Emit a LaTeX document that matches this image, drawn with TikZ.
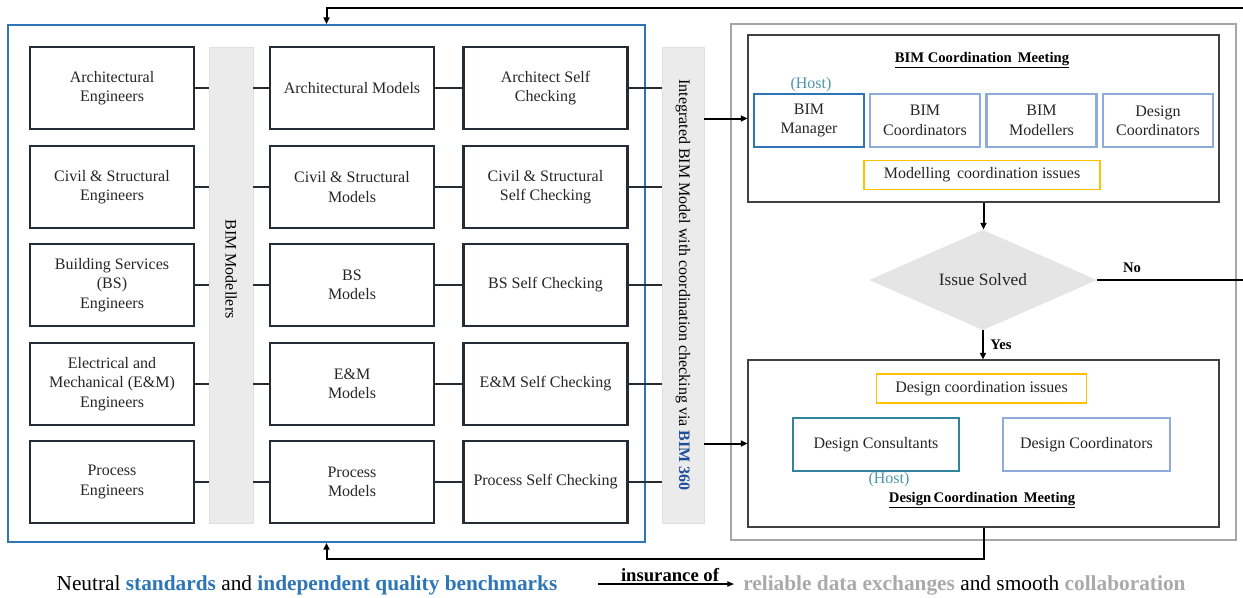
\documentclass[tikz,border=0pt]{standalone}
\usepackage{fontspec}
\setmainfont{Liberation Serif}
\usetikzlibrary{arrows.meta,shapes.geometric}

\definecolor{teamblue}{RGB}{46,117,182}
\definecolor{boxdark}{RGB}{38,44,54}
\definecolor{barfill}{RGB}{235,235,235}
\definecolor{outergray}{RGB}{166,166,166}
\definecolor{lightblue}{RGB}{143,170,220}
\definecolor{issuegold}{RGB}{255,192,0}
\definecolor{consultteal}{RGB}{49,132,155}
\definecolor{hostteal}{RGB}{75,150,170}
\definecolor{softgray}{RGB}{170,170,170}
\definecolor{navyblue}{RGB}{31,78,154}

\begin{document}
\begin{tikzpicture}[x=0.75pt,y=0.75pt,yscale=-1,xscale=1,
  font=\fontsize{12}{14.5}\selectfont,
  engbox/.style={draw=boxdark,line width=1.6pt,minimum width=123pt,minimum height=61.5pt,align=center,text=black!85},
  barbox/.style={fill=barfill,draw=black!12,minimum height=357pt},
  linkline/.style={draw=boxdark,line width=1.6pt},
  flowarrow/.style={line width=1.5pt,-{Triangle[length=5pt,width=4.5pt]}},
  memberbox/.style={line width=1.6pt,minimum width=82.5pt,minimum height=39.75pt,align=center,text=black!85},
  issuebox/.style={draw=issuegold,line width=1.2pt,minimum height=22pt,text=black!85},
  meetbox/.style={draw=black!75,line width=0.8pt,minimum width=353.25pt,minimum height=125.25pt},
  hosttext/.style={text=hostteal,inner sep=0.75pt},
  titletext/.style={font=\fontsize{11}{13}\selectfont\bfseries,inner sep=0.75pt}]
\useasboundingbox (0,0) rectangle (1243,597);

%Shape: Rectangle (team frame)
\node [draw=teamblue,line width=1.5pt,minimum width=477.75pt,minimum height=387.75pt] (team) at (326.5,283.5) {};
%Shape: Rectangle (meeting frame)
\node [draw=outergray,line width=2pt,minimum width=378.75pt,minimum height=387pt] (review) at (983.5,282) {};

%Shape: Bars
\node [barbox,minimum width=33pt] (modbar) at (231,285) {};
\node [barbox,minimum width=31.5pt] (intbar) at (683,285) {};
% Text Node
\draw (231,269) node [rotate=-90,inner sep=0.75pt] (modtext) {BIM Modellers};
% Text Node
\draw (683,285) node [rotate=-90,inner sep=0.75pt] (inttext) {Integrated BIM Model with coordination checking via \textbf{\textcolor{navyblue}{BIM 360}}};

%Shape: Engineers
\node [engbox] (arch) at (112,88) {Architectural\\Engineers};
\node [engbox] (civ) at (112,187) {Civil \& Structural\\Engineers};
\node [engbox] (bs) at (112,285) {Building Services\\(BS)\\Engineers};
\node [engbox] (em) at (112,384) {Electrical and\\Mechanical (E\&M)\\Engineers};
\node [engbox] (proc) at (112,482) {Process\\Engineers};

%Shape: Models
\node [engbox] (archm) at (352,88) {Architectural Models};
\node [engbox] (civm) at (352,187) {Civil \& Structural\\Models};
\node [engbox] (bsm) at (352,285) {BS\\Models};
\node [engbox] (emm) at (352,384) {E\&M\\Models};
\node [engbox] (procm) at (352,482) {Process\\Models};

%Shape: Self checking
\node [engbox] (archc) at (545.5,88) {Architect Self\\Checking};
\node [engbox] (civc) at (545.5,187) {Civil \& Structural\\Self Checking};
\node [engbox] (bsc) at (545.5,285) {BS Self Checking};
\node [engbox] (emc) at (545.5,384) {E\&M Self Checking};
\node [engbox] (procc) at (545.5,482) {Process Self Checking};

%Straight Lines (rows)
\draw [linkline] (arch.east) -- (arch.east -| modbar.west);
\draw [linkline] (archm.west -| modbar.east) -- (archm.west);
\draw [linkline] (archm.east) -- (archc.west);
\draw [linkline] (archc.east) -- (archc.east -| intbar.west);
\draw [linkline] (civ.east) -- (civ.east -| modbar.west);
\draw [linkline] (civm.west -| modbar.east) -- (civm.west);
\draw [linkline] (civm.east) -- (civc.west);
\draw [linkline] (civc.east) -- (civc.east -| intbar.west);
\draw [linkline] (bs.east) -- (bs.east -| modbar.west);
\draw [linkline] (bsm.west -| modbar.east) -- (bsm.west);
\draw [linkline] (bsm.east) -- (bsc.west);
\draw [linkline] (bsc.east) -- (bsc.east -| intbar.west);
\draw [linkline] (em.east) -- (em.east -| modbar.west);
\draw [linkline] (emm.west -| modbar.east) -- (emm.west);
\draw [linkline] (emm.east) -- (emc.west);
\draw [linkline] (emc.east) -- (emc.east -| intbar.west);
\draw [linkline] (proc.east) -- (proc.east -| modbar.west);
\draw [linkline] (procm.west -| modbar.east) -- (procm.west);
\draw [linkline] (procm.east) -- (procc.west);
\draw [linkline] (procc.east) -- (procc.east -| intbar.west);

%Shape: BIM coordination meeting
\node [meetbox] (bimmeet) at (983.5,118.5) {};
\node [titletext] (bimtitle) at (982,60) {\underline{BIM Coordination\, Meeting}};
\node [hosttext] (host1) at (811,85) {(Host)};
\node [memberbox,draw=teamblue] (mgr) at (809,120.5) {BIM\\Manager};
\node [memberbox,draw=lightblue] (bimco) at (925,120.5) {BIM\\Coordinators};
\node [memberbox,draw=lightblue] (bimmod) at (1041.5,120.5) {BIM\\Modellers};
\node [memberbox,draw=lightblue] (desco1) at (1158,120.5) {Design\\Coordinators};
\node [issuebox,minimum width=177pt] (modiss) at (982,175) {Modelling\, coordination issues};

%Shape: Diamond
\node [diamond,fill=black!10,minimum width=171pt,minimum height=68pt,inner sep=0pt,text=black!85,font=\fontsize{13}{15}\selectfont] (solved) at (983,280) {Issue Solved};

%Shape: Design coordination meeting
\node [meetbox] (desmeet) at (983.5,443.5) {};
\node [issuebox,minimum width=157.5pt] (desiss) at (981.5,388.5) {Design coordination issues};
\node [memberbox,draw=consultteal,minimum width=124.5pt] (consult) at (876,444.5) {Design Consultants};
\node [memberbox,draw=lightblue,minimum width=125pt] (desco2) at (1086.5,444.5) {Design Coordinators};
\node [hosttext] (host2) at (889,480) {(Host)};
\node [titletext] (destitle) at (982,500) {\underline{Design\,Coordination\, Meeting}};

%Arrows
\draw [flowarrow] (intbar.east |- bimmeet.west) -- (bimmeet.west);
\draw [flowarrow] (intbar.east |- desmeet.west) -- (desmeet.west);
\draw [flowarrow] (bimmeet.south) -- (bimmeet.south |- solved.north);
\draw [flowarrow] (solved.south) -- (solved.south |- desmeet.north) node [midway,right,titletext,xshift=4pt] (yes) {Yes};
\coordinate (loopturn) at (1250,8);
\draw [flowarrow] (solved.east) -- (solved.east -| loopturn) -- (loopturn) -| (team.north);
\node [titletext] (no) at (1132,268) {No};
\coordinate (backturn) at (983.5,559);
\draw [flowarrow] (desmeet.south) -- (backturn) -| (team.south);

% Text Node
\node [font=\fontsize{16}{19}\selectfont,inner sep=0.75pt] (neutral) at (307,585) {Neutral \textbf{\textcolor{teamblue}{standards}} and \textbf{\textcolor{teamblue}{independent quality benchmarks}}};
\node [font=\fontsize{16}{19}\selectfont,inner sep=0.75pt,anchor=west] (gain) at (742,585) {\textbf{\textcolor{softgray}{reliable data exchanges}} and smooth \textbf{\textcolor{softgray}{collaboration}}};
\coordinate (insstart) at (598,584);
\draw [line width=0.8pt,-{Triangle[length=5pt,width=4pt]},shorten >=6pt] (insstart) -- (insstart -| gain.west) node [midway,above,font=\fontsize{14}{16}\selectfont\bfseries,inner sep=1pt] (insure) {insurance of};

\end{tikzpicture}
\end{document}
